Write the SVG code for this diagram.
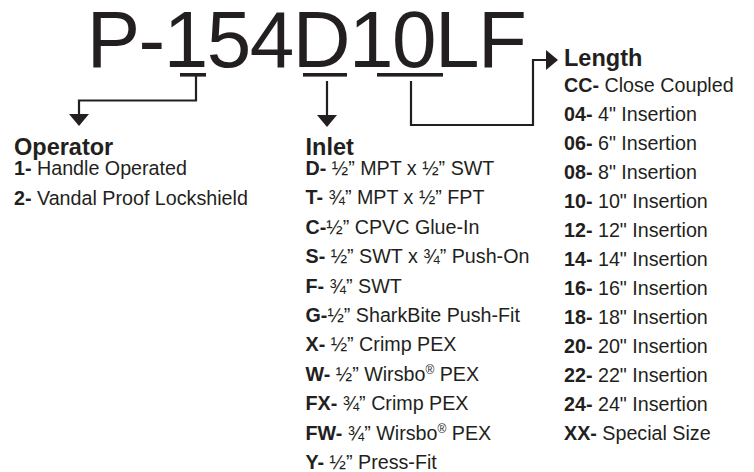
<svg xmlns="http://www.w3.org/2000/svg" width="754" height="472" viewBox="0 0 754 472">
<style>
text{font-family:"Liberation Sans",Arial,sans-serif;fill:#231f20}
.big{font-size:80px;letter-spacing:-1.5px}
.h{font-size:23.5px;font-weight:bold}
.t{font-size:19.7px}
.b{font-weight:bold}
.u{fill:#231f20}
.c{fill:none;stroke:#231f20;stroke-width:2.2}
.r{font-size:12px}
</style>
<defs>
<marker id="ah" viewBox="0 0 12 20" refX="5" refY="10" markerWidth="12" markerHeight="20" markerUnits="userSpaceOnUse" orient="auto">
<path d="M0,0 L12,10 L0,20 Z" fill="#231f20"/>
</marker>
</defs>
<rect width="754" height="472" fill="#fff"/>
<g id="model">
<text class="big" x="86.7" y="67">P-154D10LF</text>
<rect class="u" x="180" y="73" width="26" height="3.6"/>
<rect class="u" x="303" y="73" width="44" height="3.6"/>
<rect class="u" x="377" y="73" width="66" height="3.6"/>
</g>
<g id="connectors">
<path class="c" d="M196,76 V100.5 H79 V119" marker-end="url(#ah)"/>
<path class="c" d="M327,81 V120" marker-end="url(#ah)"/>
<path class="c" d="M411,81 V125 H533 V60 H551" marker-end="url(#ah)"/>
</g>
<g id="operator">
<text class="h" x="14" y="155">Operator</text>
<text class="t" x="14" y="175"><tspan class="b">1-</tspan> Handle Operated</text>
<text class="t" x="14" y="205"><tspan class="b">2-</tspan> Vandal Proof Lockshield</text>
</g>
<g id="inlet">
<text class="h" x="305.5" y="155">Inlet</text>
<text class="t" x="305.5" y="175"><tspan class="b">D-</tspan> ½” MPT x ½” SWT</text>
<text class="t" x="305.5" y="204.4"><tspan class="b">T-</tspan> ¾” MPT x ½” FPT</text>
<text class="t" x="305.5" y="233.8"><tspan class="b">C-</tspan>½” CPVC Glue-In</text>
<text class="t" x="305.5" y="263.2"><tspan class="b">S-</tspan> ½” SWT x ¾” Push-On</text>
<text class="t" x="305.5" y="292.6"><tspan class="b">F-</tspan> ¾” SWT</text>
<text class="t" x="305.5" y="322"><tspan class="b">G-</tspan>½” SharkBite Push-Fit</text>
<text class="t" x="305.5" y="351.4"><tspan class="b">X-</tspan> ½” Crimp PEX</text>
<text class="t" x="305.5" y="380.8"><tspan class="b">W-</tspan> ½” Wirsbo<tspan class="r" dy="-7">®</tspan><tspan dy="7"> PEX</tspan></text>
<text class="t" x="305.5" y="410.2"><tspan class="b">FX-</tspan> ¾” Crimp PEX</text>
<text class="t" x="305.5" y="439.6"><tspan class="b">FW-</tspan> ¾” Wirsbo<tspan class="r" dy="-7">®</tspan><tspan dy="7"> PEX</tspan></text>
<text class="t" x="305.5" y="469"><tspan class="b">Y-</tspan> ½” Press-Fit</text>
</g>
<g id="length">
<text class="h" x="564" y="66">Length</text>
<text class="t" x="564" y="92"><tspan class="b">CC-</tspan> Close Coupled</text>
<text class="t" x="564" y="121"><tspan class="b">04-</tspan> 4" Insertion</text>
<text class="t" x="564" y="150"><tspan class="b">06-</tspan> 6" Insertion</text>
<text class="t" x="564" y="179"><tspan class="b">08-</tspan> 8" Insertion</text>
<text class="t" x="564" y="208"><tspan class="b">10-</tspan> 10" Insertion</text>
<text class="t" x="564" y="237"><tspan class="b">12-</tspan> 12" Insertion</text>
<text class="t" x="564" y="266"><tspan class="b">14-</tspan> 14" Insertion</text>
<text class="t" x="564" y="295"><tspan class="b">16-</tspan> 16" Insertion</text>
<text class="t" x="564" y="324"><tspan class="b">18-</tspan> 18" Insertion</text>
<text class="t" x="564" y="353"><tspan class="b">20-</tspan> 20" Insertion</text>
<text class="t" x="564" y="382"><tspan class="b">22-</tspan> 22" Insertion</text>
<text class="t" x="564" y="411"><tspan class="b">24-</tspan> 24" Insertion</text>
<text class="t" x="564" y="440"><tspan class="b">XX-</tspan> Special Size</text>
</g>
</svg>
